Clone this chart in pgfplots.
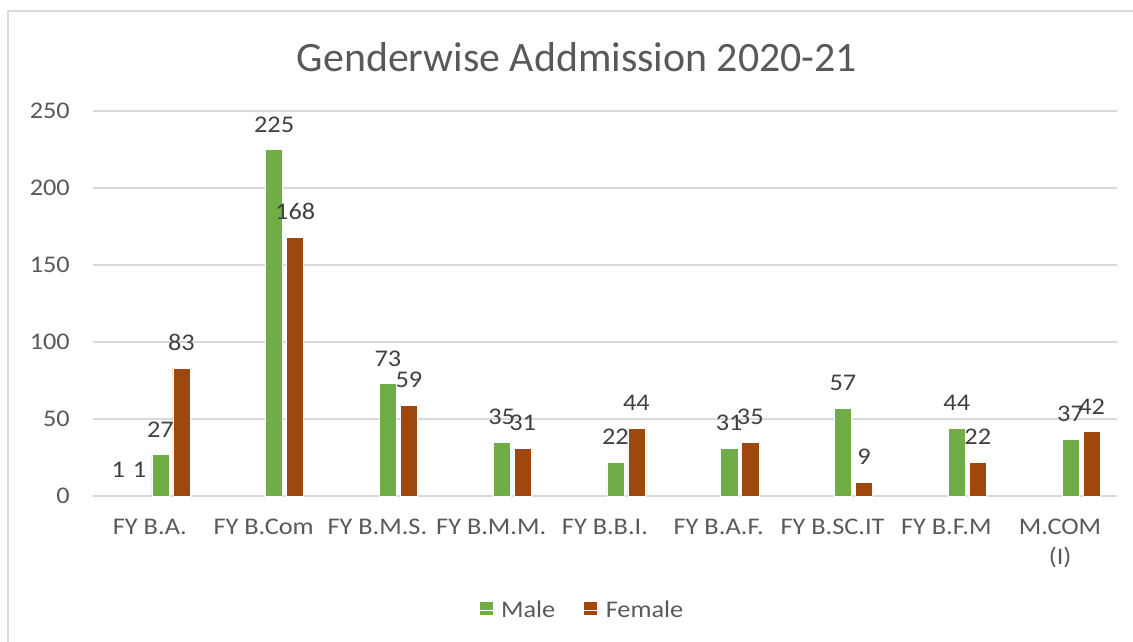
\documentclass[border=0pt]{standalone}
\usepackage{fontspec}
\setmainfont{Carlito}
\newfontfamily\labfont[FakeStretch=1.1]{Carlito}
\usepackage{pgfplots}
\pgfplotsset{compat=1.18}
\definecolor{male}{HTML}{70AD47}
\definecolor{female}{HTML}{9E480E}
\definecolor{gridc}{HTML}{D9D9D9}
\definecolor{txt}{HTML}{595959}
\definecolor{lbl}{HTML}{404040}
\pgfplotsset{sqlegend/.style={legend image code/.code={\fill[##1] (0bp,-5bp) rectangle (14bp,9bp); \path (0bp,0bp) -- (20bp,0bp);}}}
\begin{document}
\begin{tikzpicture}[x=1bp,y=1bp]
\useasboundingbox (0,0) rectangle (1133,-642);
\draw[gridc, line width=2bp] (8,-642) -- (8,-11) -- (1133,-11);
\node[text=txt, font=\fontsize{42}{50}\selectfont] at (577,-57) {Genderwise Addmission 2020-21};
\begin{axis}[
  at={(93bp,-496bp)}, anchor=south west,
  width=1024bp, height=385bp, scale only axis,
  xmin=-0.5, xmax=8.5, ymin=0, ymax=250,
  ybar, bar width=0.15,
  clip=false,
  axis line style={draw=none},
  tick style={draw=none},
  major tick length=0pt,
  ymajorgrids, grid style={gridc, line width=1.5bp},
  ytick={0,50,...,250},
  xtick={0,...,8},
  xticklabels={FY B.A., FY B.Com, FY B.M.S., FY B.M.M., FY B.B.I., FY B.A.F., FY B.SC.IT, FY B.F.M, {M.COM\\(I)}},
  /pgf/number format/assume math mode=true,
  ticklabel style={font=\labfont\fontsize{24}{30}\selectfont, text=txt},
  xticklabel style={anchor=north, inner sep=0pt, yshift=-23bp, align=center},
  yticklabel style={anchor=east, inner sep=0pt, xshift=-23bp},
  nodes near coords,
  nodes near coords style={font=\labfont\fontsize{24}{28}\selectfont, text=lbl, anchor=south, inner sep=0pt, yshift=17bp},
  legend style={at={(0.4775,-0.296)}, anchor=center, draw=none, fill=none,
    legend columns=2, font=\labfont\fontsize{24}{28}\selectfont, text=txt,
    /tikz/every even column/.append style={column sep=26bp}},
]
\addplot[draw=none, fill=none, bar shift=-0.277, forget plot] coordinates {(0,1)};
\addplot[draw=none, fill=none, bar shift=-0.092, forget plot] coordinates {(0,1)};
\addplot[fill=male, draw=white, line width=0.5bp, bar shift=0.092, sqlegend]
  coordinates {(0,27) (1,225) (2,73) (3,35) (4,22) (5,31) (6,57) (7,44) (8,37)};
\addlegendentry{Male}
\addplot[fill=female, draw=white, line width=0.5bp, bar shift=0.277, sqlegend]
  coordinates {(0,83) (1,168) (2,59) (3,31) (4,44) (5,35) (6,9) (7,22) (8,42)};
\addlegendentry{Female}
\end{axis}
\end{tikzpicture}
\end{document}
